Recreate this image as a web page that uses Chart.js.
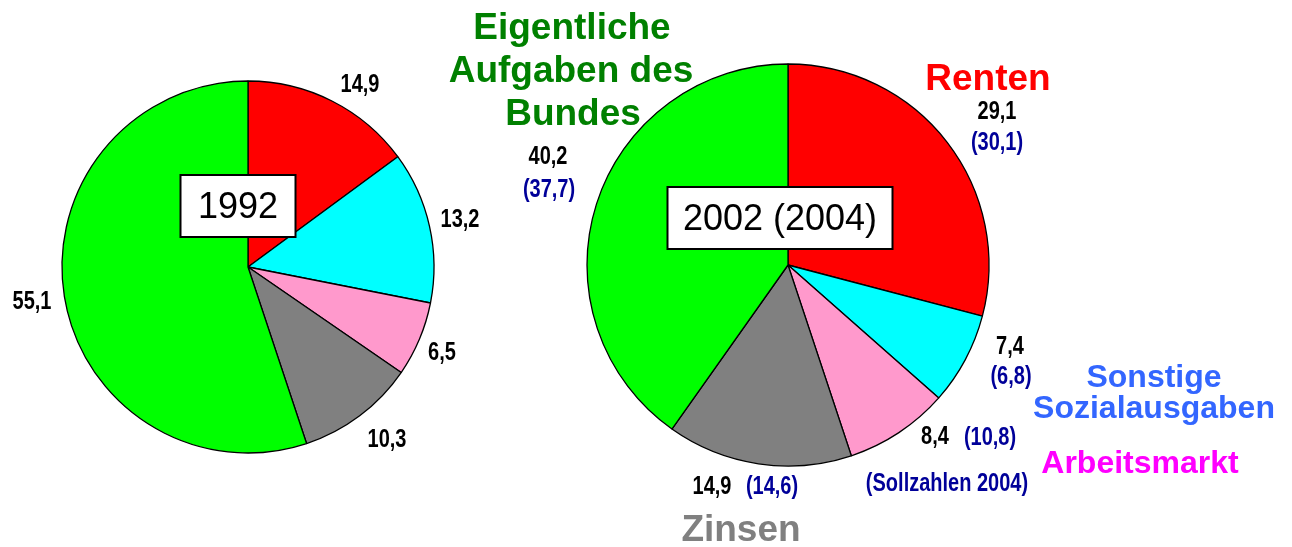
<!DOCTYPE html>
<html>
<head>
<meta charset="utf-8">
<title>Bundeshaushalt 1992 / 2002 (2004)</title>
<script src="https://cdn.jsdelivr.net/npm/chart.js@4.4.1/dist/chart.umd.min.js"></script>
<style>
  html, body { margin: 0; padding: 0; background: #fff; }
  #wrap { position: relative; width: 1292px; height: 547px; overflow: hidden; }
  #wrap canvas { position: absolute; left: 0; top: 0; }
</style>
</head>
<body>
<div id="wrap">
  <canvas id="pie1992" width="1292" height="547"></canvas>
  <canvas id="pie2002" width="1292" height="547"></canvas>
</div>
<script>
/* Bundesausgaben — Anteile in % */
const categories = ["Renten", "Sonstige Sozialausgaben", "Arbeitsmarkt", "Zinsen", "Eigentliche Aufgaben des Bundes"];
const values1992 = [14.9, 13.2, 6.5, 10.3, 55.1];
const values2002 = [29.1, 7.4, 8.4, 14.9, 40.2];
const values2004 = [30.1, 6.8, 10.8, 14.6, 37.7];   // Sollzahlen 2004
const sliceColors = ["#ff0000", "#00ffff", "#ff99cc", "#808080", "#00ff00"];

// label placement, relative to the pie centre (layout only)
const pos1992 = [[112, -182], [212, -47], [194, 86], [139, 173], [-216, 35]];
const pos2002 = [[209, -153], [222, 82], [147, 172], [-76, 222], [-240, -108]];
const pos2004 = [[209, -122], [223, 112], [202, 173], [-16, 222], [-239, -75]];

const fmt = v => v.toFixed(1).replace(".", ",");
const SANS = "'Liberation Sans', Arial, Helvetica, sans-serif";

function narrowText(ctx, text, x, y, color, size) {
  ctx.save();
  ctx.translate(x, y);
  ctx.scale(0.8, 1);
  ctx.font = "bold " + size + "px " + SANS;
  ctx.fillStyle = color;
  ctx.textAlign = "center";
  ctx.textBaseline = "middle";
  ctx.fillText(text, 0, 0);
  ctx.restore();
}

function boxText(ctx, text, cx, cy, w, h) {
  ctx.save();
  ctx.fillStyle = "#fff";
  ctx.fillRect(cx - w / 2, cy - h / 2, w, h);
  ctx.lineWidth = 2;
  ctx.strokeStyle = "#000";
  ctx.strokeRect(cx - w / 2, cy - h / 2, w, h);
  ctx.font = "36px " + SANS;
  ctx.fillStyle = "#000";
  ctx.textAlign = "center";
  ctx.textBaseline = "middle";
  ctx.fillText(text, cx, cy + 2);
  ctx.restore();
}

function title(ctx, text, x, y, color, size) {
  ctx.save();
  ctx.font = "bold " + size + "px " + SANS;
  ctx.fillStyle = color;
  ctx.textAlign = "center";
  ctx.textBaseline = "middle";
  ctx.fillText(text, x, y);
  ctx.restore();
}

const pieLabels = {
  id: "pieLabels",
  afterDraw(chart, args, opts) {
    const ctx = chart.ctx;
    const arc = chart.getDatasetMeta(0).data[0];
    const cx = arc.x, cy = arc.y;
    opts.values.forEach((v, i) => {
      narrowText(ctx, fmt(v), cx + opts.pos[i][0], cy + opts.pos[i][1], "#000", 25);
    });
    if (opts.second) {
      opts.second.forEach((v, i) => {
        narrowText(ctx, "(" + fmt(v) + ")", cx + opts.pos2[i][0], cy + opts.pos2[i][1], "#000099", 25);
      });
    }
    boxText(ctx, opts.box, cx + opts.boxAt[0], cy + opts.boxAt[1], opts.boxAt[2], opts.boxAt[3]);
    if (opts.titles) opts.titles(ctx);
  }
};

function makePie(id, values, radius, padding, labelOpts) {
  return new Chart(document.getElementById(id), {
    type: "pie",
    data: {
      labels: categories,
      datasets: [{ data: values, backgroundColor: sliceColors, borderColor: "#000", borderWidth: 1.3, radius: radius }]
    },
    options: {
      responsive: false,
      animation: false,
      layout: { padding: padding },
      plugins: { legend: { display: false }, tooltip: { enabled: false }, pieLabels: labelOpts }
    },
    plugins: [pieLabels]
  });
}

makePie("pie1992", values1992, 186, { left: 48, right: 844, top: 67, bottom: 80 }, {
  values: values1992, pos: pos1992, box: "1992", boxAt: [-10, -61, 115, 62]
});

makePie("pie2002", values2002, 201, { left: 588, right: 304, top: 65, bottom: 82 }, {
  values: values2002, pos: pos2002, second: values2004, pos2: pos2004,
  box: "2002 (2004)", boxAt: [-8, -47, 225, 62],
  titles(ctx) {
    title(ctx, "Eigentliche", 572, 29, "#008000", 37);
    title(ctx, "Aufgaben des", 571, 72, "#008000", 37);
    title(ctx, "Bundes", 573, 115, "#008000", 37);
    title(ctx, categories[0], 988, 80, "#ff0000", 37);
    title(ctx, "Sonstige", 1154, 378, "#3366ff", 32);
    title(ctx, "Sozialausgaben", 1154, 409, "#3366ff", 32);
    title(ctx, categories[2], 1140, 464, "#ff00ff", 32);
    title(ctx, categories[3], 741, 531, "#808080", 37);
    narrowText(ctx, "(Sollzahlen 2004)", 947, 484, "#000099", 25);
  }
});
</script>
</body>
</html>
